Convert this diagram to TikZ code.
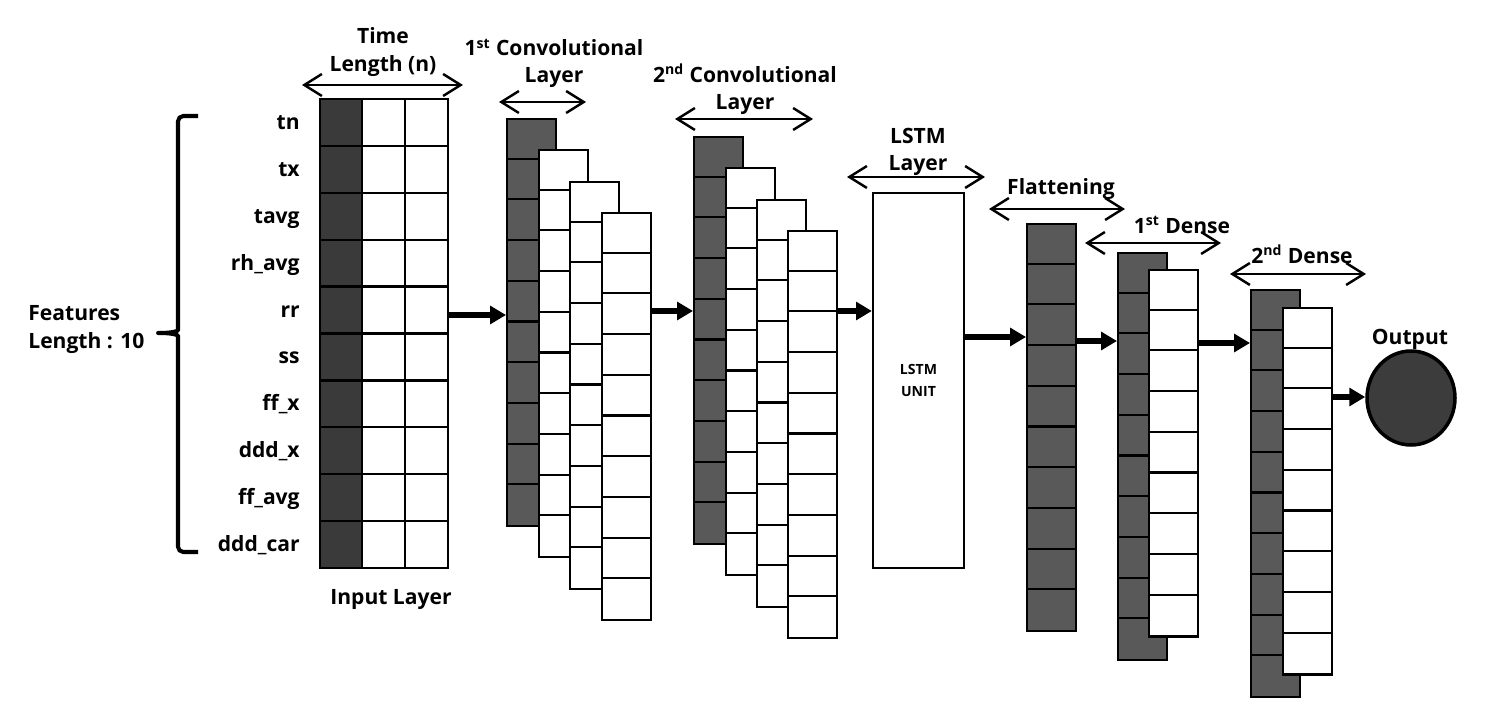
\documentclass[tikz,border=0pt]{standalone}
\usepackage{fontspec}
\setmainfont{Open Sans}
\usetikzlibrary{arrows.meta,shapes.geometric}

\definecolor{inkdark}{HTML}{3A3A3A}
\definecolor{convgray}{HTML}{595959}
\definecolor{outdark}{HTML}{3C3C3C}

\begin{document}
\begin{tikzpicture}[x=0.02cm, y=-0.02cm,
	lbl/.style={font=\bfseries\fontsize{12}{15.4}\selectfont, inner sep=0pt, align=center},
	feat/.style={font=\bfseries\fontsize{12}{15.4}\selectfont, inner sep=0pt, anchor=base east},
	cell/.style={line width=1.2pt},
	col/.style={draw, line width=1.2pt, anchor=north west, inner sep=0pt, minimum width=0.98cm, minimum height=8.14cm},
	short/.style={minimum height=7.33cm},
	flow/.style={line width=3pt, -{Triangle[length=9pt,width=10pt]}},
	span/.style={line width=1.4pt, {Straight Barb[length=10pt,width=12.5pt]}-{Straight Barb[length=10pt,width=12.5pt]}}]
	\useasboundingbox (0,0) rectangle (1485,726);

	% input layer
	\fill[inkdark] (320,99) rectangle (362,568);
	\node[draw, line width=1.3pt, inner sep=0pt, minimum width=2.56cm, minimum height=9.38cm] (inp) at (384,333.5) {};
	\draw[line width=1.3pt] (362,99) -- (362,568) (405,99) -- (405,568);
	\foreach \j in {1,...,9} \draw[line width=1.3pt] (320,99+46.9*\j) -- (448,99+46.9*\j);
	\foreach \f [count=\i] in {tn,tx,tavg,rh\_avg,rr,ss,ff\_x,ddd\_x,ff\_avg,ddd\_car}
		\node[feat] (feat\i) at (300,82.55+46.9*\i) {\f};
	\draw[line width=2.3pt, line join=round, rounded corners=3pt] (198,116) -- (178,116) -- (178,325)
		.. controls (178,331) and (172,333) .. (155,333) .. controls (172,333) and (178,335) .. (178,341)
		-- (178,552) -- (198,552);

	% convolutional layers
	\foreach \x/\y/\c [count=\k] in {506/118/convgray,538/149/white,569/181/white,601/212/white}{
		\node[col, fill=\c] (convA\k) at (\x,\y) {};
		\foreach \j in {1,...,9} \draw[cell] (\x,\y+40.7*\j) -- ++(49,0);
	}
	\foreach \x/\y/\c [count=\k] in {693/136/convgray,725/167/white,756/199/white,787/230/white}{
		\node[col, fill=\c] (convB\k) at (\x,\y) {};
		\foreach \j in {1,...,9} \draw[cell] (\x,\y+40.7*\j) -- ++(49,0);
	}

	% lstm
	\node[draw, line width=1.3pt, minimum width=1.82cm, minimum height=7.5cm, align=center,
		font=\bfseries\fontsize{8}{12}\selectfont] (lstm) at (918.5,380.5) {LSTM\\UNIT};

	% flattening and dense layers
	\node[col, fill=convgray] (flat) at (1026,223) {};
	\foreach \j in {1,...,9} \draw[cell] (1026,223+40.7*\j) -- ++(49,0);
	\node[col, fill=convgray] (denseA1) at (1117,252) {};
	\foreach \j in {1,...,9} \draw[cell] (1117,252+40.7*\j) -- ++(49,0);
	\node[col, short, fill=white] (denseA2) at (1148,269) {};
	\foreach \j in {1,...,8} \draw[cell] (1148,269+40.7*\j) -- ++(49,0);
	\node[col, fill=convgray] (denseB1) at (1250,289) {};
	\foreach \j in {1,...,9} \draw[cell] (1250,289+40.7*\j) -- ++(49,0);
	\node[col, short, fill=white] (denseB2) at (1282,307) {};
	\foreach \j in {1,...,8} \draw[cell] (1282,307+40.7*\j) -- ++(49,0);

	\node[draw, ellipse, line width=2pt, fill=outdark, inner sep=0pt, minimum width=1.76cm, minimum height=1.88cm] (out) at (1411,398) {};

	% flow arrows
	\draw[flow] (inp.east |- 0,315) -- (convA1.west |- 0,315);
	\draw[flow] (convA4.east |- 0,311) -- (convB1.west |- 0,311);
	\draw[flow] (convB4.east |- 0,311) -- (lstm.west |- 0,311);
	\draw[flow] (lstm.east |- 0,337) -- (flat.west |- 0,337);
	\draw[flow] (flat.east |- 0,341) -- (denseA1.west |- 0,341);
	\draw[flow] (denseA2.east |- 0,343) -- (denseB1.west |- 0,343);
	\draw[flow] (denseB2.east |- 0,397) -- (out.west |- 0,397);

	% size arrows
	\draw[span] (302,85) -- (463,85);
	\draw[span] (499,102) -- (586,102);
	\draw[span] (675,119) -- (813,119);
	\draw[span] (847,177) -- (985,177);
	\draw[span] (989,209) -- (1125,209);
	\draw[span] (1085,243) -- (1221,243);
	\draw[span] (1230,274) -- (1366,274);

	% labels
	\node[lbl] (timelen) at (383,52) {Time\\Length (n)};
	\node[lbl] (convAlbl) at (554,63.5) {1\textsuperscript{st} Convolutional\\Layer};
	\node[lbl] (convBlbl) at (745,89.5) {2\textsuperscript{nd} Convolutional\\Layer};
	\node[lbl] (lstmlbl) at (918,151.5) {LSTM\\Layer};
	\node[lbl] (flatlbl) at (1061,189.5) {Flattening};
	\node[lbl] (denseAlbl) at (1182,225) {1\textsuperscript{st} Dense};
	\node[lbl] (denseBlbl) at (1302,254.5) {2\textsuperscript{nd} Dense};
	\node[lbl] (outlbl) at (1410,339) {Output};
	\node[lbl] (inlbl) at (391,600) {Input Layer};
	\node[lbl, align=left, anchor=west] (featlbl) at (28,329.5) {Features\\Length : 10};
\end{tikzpicture}
\end{document}
